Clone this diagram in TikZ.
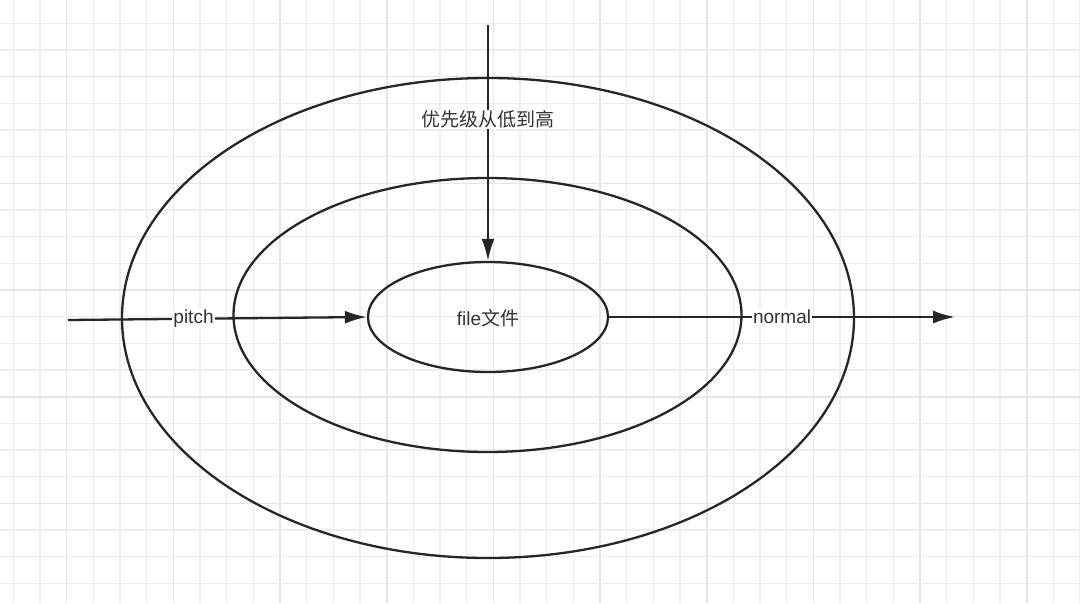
\documentclass[tikz,border=0pt]{standalone}
\usepackage{fontspec}
\usetikzlibrary{shapes.geometric,arrows.meta}
\setmainfont{Liberation Sans}
\newfontfamily\cjk{Noto Sans CJK SC}
\begin{document}
\begin{tikzpicture}[x=1pt,y=-1pt,
  ring/.style={draw=black!85,line width=2.3pt},
  arr/.style={draw=black!85,line width=2.3pt,-{Latex[length=22pt,width=13pt]}},
  lbl/.style={fill=white,inner sep=1pt,font=\fontsize{19}{19}\selectfont,text=black!80}]
\useasboundingbox (0,0) rectangle (1080,603);
\fill[white] (0,0) rectangle (1080,603);
\foreach \k in {0,...,40}{
  \pgfmathsetmacro\xx{13.33+26.67*\k}
  \pgfmathtruncatemacro\m{mod(\k+2,4)==0}
  \ifnum\m=1 \draw[black!10,line width=1.6pt] (\xx,0)--(\xx,603);
  \else \draw[black!7,line width=1.3pt] (\xx,0)--(\xx,603);\fi}
\foreach \k in {0,...,22}{
  \pgfmathsetmacro\yy{23.33+26.67*\k}
  \pgfmathtruncatemacro\m{mod(\k+2,4)==0}
  \ifnum\m=1 \draw[black!10,line width=1.6pt] (0,\yy)--(1080,\yy);
  \else \draw[black!7,line width=1.3pt] (0,\yy)--(1080,\yy);\fi}
\draw[ring] (488,318) ellipse [x radius=366,y radius=240];
\draw[ring] (487.5,315) ellipse [x radius=254,y radius=137];
\node[ring,ellipse,minimum width=240pt,minimum height=110pt,inner sep=0pt] (file) at (488,317) {};
\node[font=\fontsize{19}{19}\selectfont,text=black!80] (ft) at (488,318) {file{\cjk 文件}};
\coordinate (top) at (488,25);
\coordinate (lft) at (68,320);
\coordinate (rgt) at (955,317);
\draw[arr] (top) -- (file.north) node[lbl,pos=0.4] (t1) {\cjk 优先级从低到高};
\draw[arr] (lft) -- (file.west) node[lbl,pos=0.42] (t2) {pitch};
\draw[arr] (file.east) -- (rgt) node[lbl,pos=0.5] (t3) {normal};
\end{tikzpicture}
\end{document}
